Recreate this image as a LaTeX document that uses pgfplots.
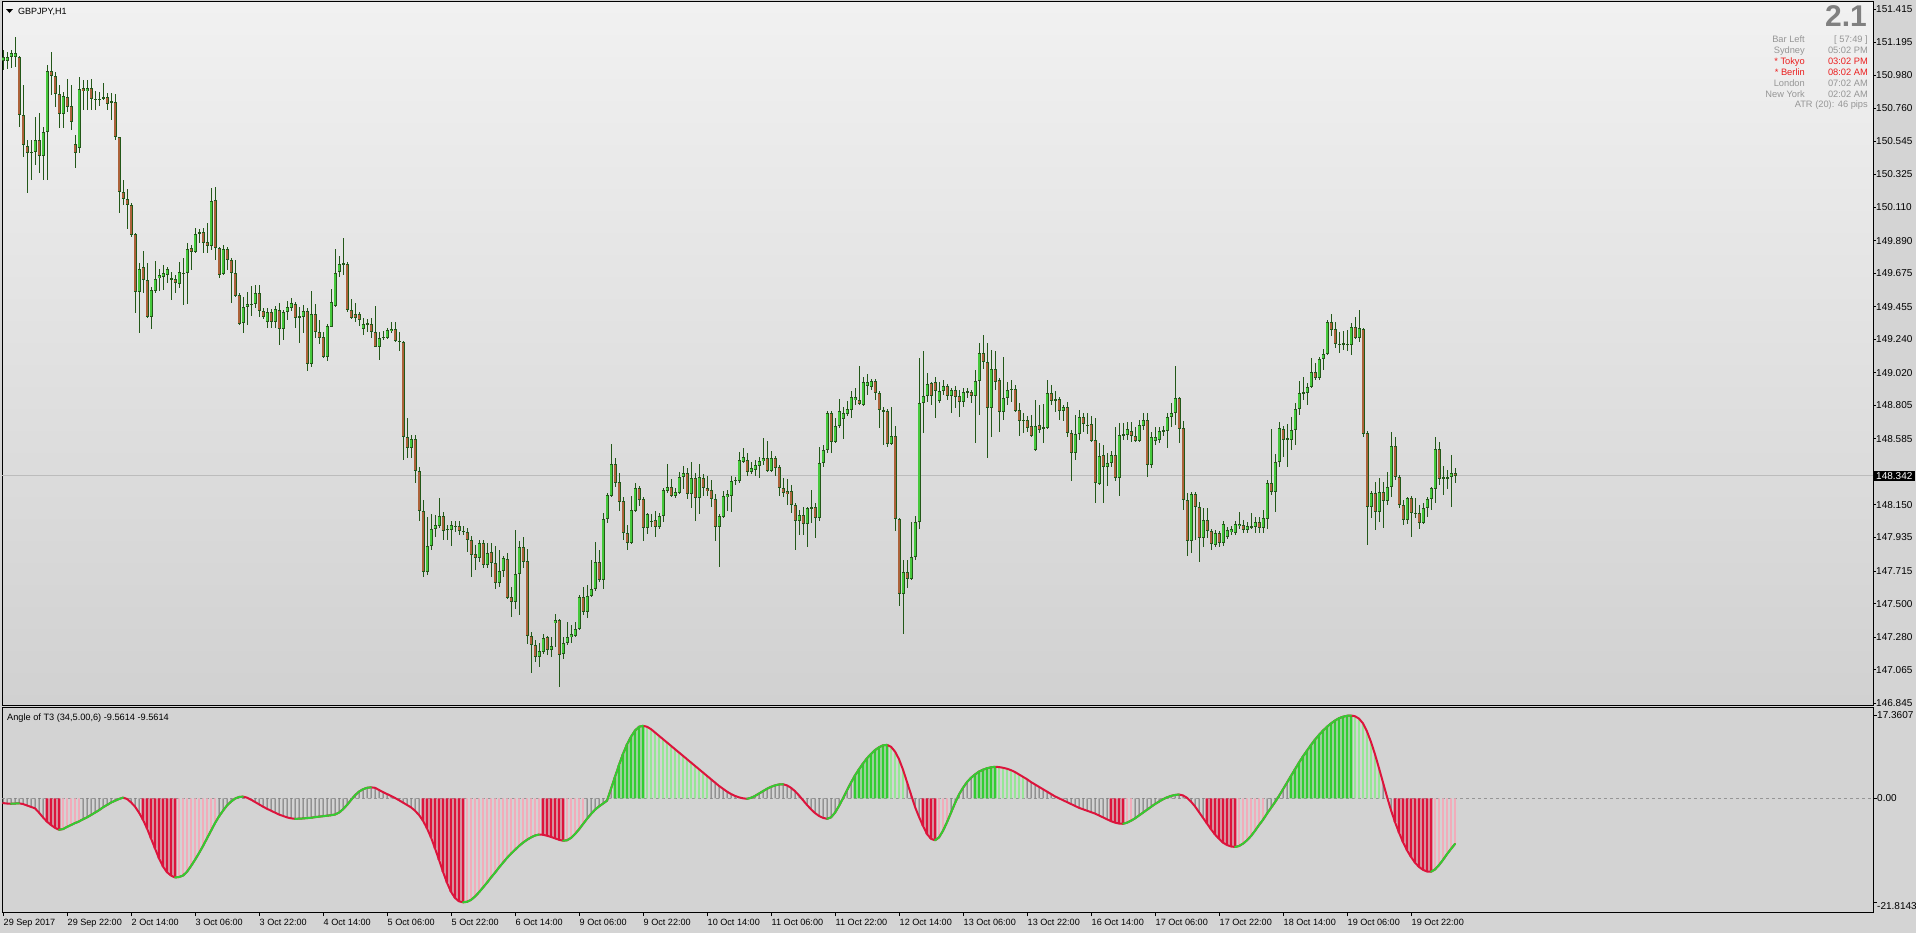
\documentclass[border=0pt]{standalone}
\usepackage{fontspec}
\setmainfont{Liberation Sans}
\usepackage{pgfplots}
\usepackage{pgfplotstable}
\pgfplotsset{compat=1.18}

\definecolor{bgout}{RGB}{212,212,212}
\definecolor{paneltop}{RGB}{241,241,241}
\definecolor{panelbot}{RGB}{209,209,209}
\definecolor{indbg}{RGB}{211,211,211}
\definecolor{wick}{RGB}{35,88,25}
\definecolor{bull}{RGB}{70,200,60}
\definecolor{bear}{RGB}{172,98,58}
\definecolor{crim}{RGB}{220,20,60}
\definecolor{pinkb}{RGB}{242,172,186}
\definecolor{limeg}{RGB}{50,205,50}
\definecolor{paleg}{RGB}{150,230,150}
\definecolor{grayb}{RGB}{110,110,110}
\definecolor{infogray}{RGB}{150,150,150}
\definecolor{biggray}{RGB}{128,128,128}
\definecolor{infored}{RGB}{235,30,30}
\definecolor{priceline}{RGB}{188,188,188}
\definecolor{zeroline}{RGB}{150,150,150}

\pgfplotstableread{
i O H L C
0 151.072 151.145 151.013 151.099
1 151.072 151.132 151.020 151.099
2 151.099 151.145 151.026 151.125
3 151.099 151.230 151.033 151.125
4 151.099 151.105 150.638 150.717
5 150.717 150.914 150.440 150.519
6 150.512 150.552 150.203 150.466
7 150.473 150.552 150.289 150.473
8 150.473 150.704 150.387 150.552
9 150.552 150.730 150.335 150.446
10 150.446 150.638 150.289 150.605
11 150.605 151.046 150.289 151.007
12 151.007 151.132 150.848 150.974
13 150.974 151.000 150.769 150.855
14 150.855 150.914 150.631 150.723
15 150.723 150.868 150.631 150.842
16 150.835 150.954 150.737 150.769
17 150.776 150.914 150.618 150.671
18 150.526 150.585 150.368 150.466
19 150.499 150.967 150.466 150.888
20 150.894 150.947 150.750 150.875
21 150.875 150.947 150.750 150.894
22 150.894 150.954 150.750 150.822
23 150.822 150.875 150.750 150.822
24 150.822 150.868 150.776 150.822
25 150.822 150.927 150.816 150.835
26 150.835 150.862 150.750 150.790
27 150.803 150.862 150.684 150.803
28 150.803 150.855 150.552 150.572
29 150.572 150.572 150.071 150.210
30 150.210 150.289 150.124 150.164
31 150.164 150.229 149.966 150.124
32 150.124 150.137 149.913 149.927
33 149.933 149.940 149.413 149.551
34 149.551 149.742 149.281 149.703
35 149.716 149.821 149.544 149.630
36 149.630 149.742 149.380 149.387
37 149.387 149.584 149.308 149.564
38 149.558 149.755 149.544 149.637
39 149.643 149.703 149.558 149.663
40 149.650 149.729 149.564 149.676
41 149.663 149.716 149.610 149.703
42 149.637 149.683 149.499 149.637
43 149.637 149.663 149.544 149.610
44 149.604 149.749 149.577 149.683
45 149.676 149.775 149.466 149.676
46 149.676 149.874 149.473 149.834
47 149.841 149.861 149.696 149.815
48 149.815 149.973 149.808 149.933
49 149.933 149.966 149.874 149.946
50 149.946 149.973 149.808 149.874
51 149.881 150.005 149.808 149.854
52 149.854 150.236 149.828 150.150
53 150.157 150.243 149.762 149.841
54 149.841 149.848 149.643 149.663
55 149.670 149.861 149.663 149.834
56 149.834 149.848 149.696 149.762
57 149.762 149.775 149.479 149.676
58 149.676 149.762 149.518 149.525
59 149.532 149.544 149.334 149.341
60 149.347 149.518 149.281 149.453
61 149.453 149.551 149.334 149.473
62 149.473 149.591 149.393 149.473
63 149.473 149.597 149.446 149.544
64 149.544 149.597 149.387 149.426
65 149.426 149.446 149.374 149.387
66 149.354 149.446 149.314 149.420
67 149.420 149.440 149.314 149.354
68 149.354 149.459 149.314 149.440
69 149.433 149.479 149.202 149.308
70 149.308 149.433 149.235 149.420
71 149.420 149.492 149.367 149.453
72 149.446 149.512 149.426 149.479
73 149.473 149.486 149.314 149.380
74 149.393 149.453 149.215 149.380
75 149.387 149.466 149.281 149.426
76 149.426 149.446 149.031 149.077
77 149.077 149.558 149.057 149.407
78 149.407 149.473 149.248 149.288
79 149.288 149.367 149.209 149.248
80 149.255 149.288 149.117 149.123
81 149.123 149.341 149.097 149.328
82 149.321 149.571 149.321 149.486
83 149.459 149.834 149.453 149.676
84 149.683 149.788 149.650 149.736
85 149.736 149.907 149.663 149.736
86 149.736 149.749 149.420 149.433
87 149.433 149.505 149.374 149.380
88 149.407 149.479 149.354 149.380
89 149.407 149.420 149.328 149.367
90 149.308 149.380 149.268 149.341
91 149.341 149.374 149.288 149.341
92 149.341 149.380 149.248 149.288
93 149.288 149.459 149.189 149.189
94 149.189 149.288 149.103 149.248
95 149.255 149.294 149.235 149.255
96 149.248 149.314 149.242 149.301
97 149.294 149.354 149.281 149.308
98 149.308 149.354 149.222 149.229
99 149.229 149.288 149.163 149.229
100 149.222 149.229 148.445 148.596
101 148.596 148.721 148.458 148.524
102 148.524 148.610 148.458 148.583
103 148.583 148.610 148.293 148.372
104 148.372 148.399 148.043 148.109
105 148.109 148.182 147.675 147.708
106 147.708 148.070 147.688 147.879
107 147.879 148.090 147.852 147.990
108 147.990 148.083 147.938 148.017
109 148.010 148.195 147.997 148.076
110 148.076 148.103 147.918 147.977
111 147.990 148.017 147.918 147.990
112 147.984 148.043 147.879 148.017
113 148.010 148.043 147.970 148.010
114 148.010 148.043 147.951 147.977
115 147.977 148.010 147.951 147.977
116 147.970 147.997 147.839 147.918
117 147.918 147.944 147.675 147.819
118 147.826 147.885 147.721 147.800
119 147.800 147.918 147.773 147.898
120 147.898 147.918 147.734 147.754
121 147.754 147.898 147.734 147.833
122 147.839 147.898 147.675 147.767
123 147.767 147.879 147.596 147.635
124 147.635 147.852 147.609 147.714
125 147.714 147.813 147.675 147.800
126 147.793 147.833 147.530 147.537
127 147.543 147.609 147.411 147.510
128 147.510 147.984 147.464 147.695
129 147.695 147.912 147.424 147.872
130 147.872 147.938 147.734 147.773
131 147.780 147.859 147.234 147.286
132 147.286 147.312 147.042 147.227
133 147.227 147.260 147.115 147.148
134 147.148 147.240 147.082 147.187
135 147.181 147.299 147.168 147.273
136 147.280 147.286 147.161 147.194
137 147.194 147.280 147.148 147.220
138 147.371 147.431 147.214 147.391
139 147.391 147.398 146.950 147.161
140 147.168 147.280 147.135 147.240
141 147.240 147.378 147.227 147.280
142 147.280 147.358 147.240 147.299
143 147.286 147.378 147.280 147.332
144 147.332 147.556 147.325 147.543
145 147.543 147.609 147.424 147.444
146 147.444 147.622 147.404 147.550
147 147.550 147.786 147.543 147.596
148 147.596 147.905 147.583 147.773
149 147.773 147.852 147.642 147.655
150 147.655 148.096 147.596 148.057
151 148.057 148.228 148.030 148.215
152 148.208 148.551 148.201 148.419
153 148.419 148.458 148.267 148.293
154 148.300 148.359 148.109 148.168
155 148.175 148.201 147.918 147.964
156 147.964 148.017 147.852 147.898
157 147.898 148.208 147.892 148.116
158 148.109 148.293 148.103 148.260
159 148.260 148.273 148.142 148.182
160 148.188 148.201 147.911 147.997
161 147.997 148.096 147.957 148.090
162 148.043 148.090 148.003 148.043
163 148.050 148.109 147.938 148.003
164 148.003 148.096 147.990 148.076
165 148.076 148.260 148.037 148.247
166 148.240 148.419 148.227 148.267
167 148.267 148.320 148.201 148.208
168 148.208 148.260 148.195 148.234
169 148.227 148.366 148.221 148.333
170 148.333 148.405 148.254 148.359
171 148.359 148.392 148.188 148.221
172 148.221 148.432 148.129 148.326
173 148.326 148.359 148.043 148.195
174 148.195 148.419 148.090 148.333
175 148.326 148.353 148.208 148.260
176 148.260 148.339 148.208 148.240
177 148.247 148.313 148.136 148.188
178 148.188 148.221 147.911 148.003
179 148.003 148.090 147.741 148.076
180 148.070 148.241 148.063 148.208
181 148.201 148.247 148.109 148.221
182 148.208 148.339 148.103 148.307
183 148.313 148.333 148.280 148.313
184 148.307 148.498 148.293 148.445
185 148.432 148.524 148.425 148.465
186 148.445 148.491 148.339 148.366
187 148.366 148.432 148.353 148.392
188 148.379 148.445 148.339 148.412
189 148.405 148.465 148.326 148.438
190 148.438 148.590 148.412 148.458
191 148.458 148.570 148.366 148.372
192 148.372 148.504 148.366 148.458
193 148.458 148.471 148.339 148.392
194 148.399 148.412 148.208 148.260
195 148.260 148.326 148.201 148.227
196 148.241 148.320 148.149 148.221
197 148.241 148.280 148.096 148.149
198 148.149 148.162 147.852 148.043
199 148.043 148.116 147.951 148.083
200 148.083 148.136 147.951 148.024
201 148.024 148.136 147.872 148.129
202 148.129 148.247 148.030 148.136
203 148.136 148.162 147.931 148.063
204 148.063 148.531 148.043 148.425
205 148.425 148.544 148.399 148.511
206 148.511 148.767 148.491 148.754
207 148.754 148.767 148.491 148.563
208 148.563 148.721 148.557 148.668
209 148.668 148.846 148.655 148.767
210 148.714 148.794 148.583 148.754
211 148.747 148.833 148.734 148.780
212 148.774 148.899 148.721 148.859
213 148.840 148.919 148.807 148.859
214 148.840 149.064 148.807 148.813
215 148.807 148.992 148.800 148.958
216 148.932 149.011 148.873 148.958
217 148.925 148.978 148.906 148.965
218 148.965 148.978 148.840 148.886
219 148.886 148.899 148.655 148.774
220 148.774 148.794 148.544 148.761
221 148.767 148.780 148.531 148.550
222 148.550 148.794 148.544 148.603
223 148.603 148.668 147.977 148.056
224 148.056 148.063 147.484 147.563
225 147.563 147.786 147.299 147.708
226 147.708 147.786 147.602 147.661
227 147.661 148.037 147.655 147.806
228 147.806 148.076 147.787 148.037
229 148.037 149.117 147.990 148.820
230 148.820 149.163 148.623 148.866
231 148.866 149.018 148.827 148.945
232 148.952 148.958 148.807 148.866
233 148.958 148.992 148.721 148.899
234 148.833 148.958 148.820 148.899
235 148.899 148.972 148.873 148.932
236 148.932 148.945 148.840 148.866
237 148.866 148.919 148.754 148.906
238 148.906 148.932 148.787 148.860
239 148.866 148.906 148.728 148.827
240 148.827 148.919 148.794 148.893
241 148.886 148.919 148.853 148.899
242 148.893 148.906 148.820 148.866
243 148.866 149.038 148.557 148.965
244 148.965 149.215 148.741 149.150
245 149.150 149.268 149.044 149.090
246 149.090 149.215 148.458 148.787
247 148.787 149.169 148.596 149.044
248 149.044 149.163 148.906 148.958
249 148.972 148.985 148.629 148.761
250 148.761 149.123 148.708 148.853
251 148.853 148.958 148.807 148.906
252 148.912 148.972 148.827 148.912
253 148.912 148.939 148.761 148.767
254 148.774 148.820 148.603 148.701
255 148.708 148.754 148.623 148.708
256 148.708 148.734 148.629 148.655
257 148.668 148.741 148.596 148.603
258 148.511 148.840 148.504 148.668
259 148.675 148.807 148.623 148.642
260 148.649 148.813 148.557 148.662
261 148.655 148.972 148.649 148.886
262 148.886 148.939 148.807 148.833
263 148.846 148.899 148.761 148.833
264 148.846 148.860 148.708 148.767
265 148.767 148.807 148.701 148.794
266 148.794 148.827 148.596 148.622
267 148.622 148.642 148.307 148.491
268 148.491 148.741 148.445 148.616
269 148.616 148.774 148.577 148.728
270 148.728 148.754 148.629 148.682
271 148.675 148.754 148.616 148.675
272 148.682 148.734 148.564 148.570
273 148.577 148.721 148.162 148.293
274 148.287 148.557 148.280 148.471
275 148.478 148.544 148.162 148.399
276 148.399 148.491 148.274 148.425
277 148.425 148.504 148.399 148.478
278 148.478 148.662 148.307 148.326
279 148.326 148.689 148.208 148.610
280 148.603 148.689 148.577 148.616
281 148.610 148.695 148.577 148.649
282 148.636 148.695 148.564 148.603
283 148.603 148.662 148.564 148.570
284 148.570 148.708 148.564 148.675
285 148.668 148.754 148.642 148.708
286 148.708 148.754 148.333 148.412
287 148.412 148.629 148.392 148.596
288 148.570 148.662 148.544 148.596
289 148.577 148.662 148.557 148.636
290 148.629 148.668 148.603 148.642
291 148.636 148.754 148.524 148.728
292 148.728 148.820 148.662 148.754
293 148.754 149.064 148.675 148.853
294 148.853 148.860 148.557 148.649
295 148.655 148.701 148.116 148.182
296 148.182 148.228 147.813 147.911
297 147.911 148.234 147.833 148.221
298 148.221 148.234 147.918 148.136
299 148.136 148.168 147.773 147.931
300 147.931 148.129 147.872 148.050
301 148.050 148.129 147.931 147.977
302 147.977 147.990 147.852 147.892
303 147.885 147.984 147.872 147.964
304 147.964 147.977 147.872 147.898
305 147.898 148.043 147.879 148.024
306 147.938 148.003 147.925 147.984
307 147.970 148.010 147.951 147.990
308 147.964 148.043 147.951 148.024
309 148.010 148.103 147.990 148.024
310 148.017 148.050 147.964 147.984
311 147.984 148.037 147.964 148.010
312 148.003 148.096 147.990 148.010
313 148.003 148.070 147.964 148.037
314 148.037 148.070 147.964 147.997
315 147.997 148.116 147.964 148.063
316 148.057 148.313 147.990 148.293
317 148.293 148.649 148.215 148.234
318 148.234 148.484 148.103 148.432
319 148.432 148.695 148.399 148.655
320 148.649 148.668 148.465 148.577
321 148.577 148.682 148.399 148.590
322 148.577 148.728 148.511 148.642
323 148.642 148.820 148.544 148.780
324 148.780 148.965 148.741 148.886
325 148.886 148.992 148.840 148.893
326 148.886 148.952 148.807 148.925
327 148.925 149.117 148.919 149.024
328 149.024 149.084 148.972 148.985
329 148.985 149.123 148.972 149.110
330 149.110 149.176 149.038 149.143
331 149.143 149.367 149.137 149.354
332 149.354 149.407 149.262 149.301
333 149.308 149.354 149.183 149.209
334 149.209 149.288 149.150 149.209
335 149.202 149.295 149.169 149.215
336 149.209 149.301 149.163 149.209
337 149.202 149.347 149.137 149.321
338 149.321 149.387 149.242 149.248
339 149.248 149.433 149.222 149.314
340 149.308 149.314 148.596 148.616
341 148.623 148.636 147.885 148.136
342 148.136 148.241 148.063 148.228
343 148.228 148.300 147.984 148.103
344 148.103 148.326 148.037 148.234
345 148.234 148.300 147.997 148.175
346 148.175 148.366 148.149 148.267
347 148.267 148.629 148.201 148.537
348 148.537 148.596 148.313 148.333
349 148.333 148.346 148.129 148.149
350 148.149 148.182 148.017 148.050
351 148.050 148.201 148.024 148.195
352 148.195 148.208 147.938 148.096
353 148.096 148.195 148.063 148.090
354 148.096 148.149 147.990 148.030
355 148.030 148.162 148.024 148.129
356 148.129 148.201 148.070 148.188
357 148.188 148.267 148.116 148.260
358 148.254 148.596 148.162 148.517
359 148.517 148.564 148.280 148.320
360 148.320 148.405 148.215 148.333
361 148.326 148.379 148.254 148.333
362 148.333 148.478 148.136 148.359
363 148.359 148.392 148.293 148.342
}\candles

\pgfplotstableread{
i v c g
0 -1.00 0 0
1 -1.10 0 0
2 -1.15 0 1
3 -1.10 0 1
4 -1.05 0 1
5 -1.20 0 0
6 -1.50 0 0
7 -1.80 0 0
8 -2.10 0 0
9 -3.00 0 0
10 -4.00 0 0
11 -4.90 1 0
12 -5.60 1 0
13 -6.20 1 0
14 -6.60 1 1
15 -6.45 2 1
16 -6.00 2 1
17 -5.60 2 1
18 -5.20 2 1
19 -4.85 2 1
20 -4.40 0 1
21 -4.00 0 1
22 -3.50 0 1
23 -3.00 0 1
24 -2.50 0 1
25 -1.90 0 1
26 -1.40 0 1
27 -0.90 0 1
28 -0.50 0 1
29 -0.15 0 1
30 0.14 0 1
31 -0.14 0 0
32 -0.84 0 0
33 -1.75 0 0
34 -3.00 0 0
35 -4.50 1 0
36 -6.30 1 0
37 -8.40 1 0
38 -10.50 1 0
39 -12.60 1 0
40 -14.30 1 0
41 -15.50 1 0
42 -16.20 1 0
43 -16.60 1 1
44 -16.50 2 1
45 -16.20 2 1
46 -15.40 2 1
47 -14.20 2 1
48 -12.90 2 1
49 -11.50 2 1
50 -10.00 2 1
51 -8.40 2 1
52 -6.80 2 1
53 -5.20 2 1
54 -3.80 0 1
55 -2.60 0 1
56 -1.50 0 1
57 -0.70 0 1
58 -0.07 0 1
59 0.28 0 1
60 0.35 0 1
61 0.14 0 0
62 -0.28 0 0
63 -0.77 0 0
64 -1.26 0 0
65 -1.75 0 0
66 -2.20 0 0
67 -2.60 0 0
68 -3.00 0 0
69 -3.40 0 0
70 -3.70 0 0
71 -4.00 0 0
72 -4.20 0 0
73 -4.30 0 1
74 -4.28 0 1
75 -4.22 0 1
76 -4.15 0 1
77 -4.08 0 1
78 -3.95 0 1
79 -3.85 0 1
80 -3.75 0 1
81 -3.65 0 1
82 -3.55 0 1
83 -3.40 0 1
84 -3.00 0 1
85 -2.30 0 1
86 -1.40 0 1
87 -0.35 0 1
88 0.63 0 1
89 1.40 0 1
90 1.90 0 1
91 2.20 0 1
92 2.30 0 1
93 2.20 0 0
94 1.75 0 0
95 1.30 0 0
96 0.90 0 0
97 0.50 0 0
98 0.07 0 0
99 -0.40 0 0
100 -0.90 0 0
101 -1.40 0 0
102 -1.90 0 0
103 -2.60 0 0
104 -3.50 0 0
105 -4.70 1 0
106 -6.30 1 0
107 -8.20 1 0
108 -10.50 1 0
109 -12.90 1 0
110 -15.40 1 0
111 -17.70 1 0
112 -19.60 1 0
113 -20.90 1 0
114 -21.60 1 0
115 -21.81 1 1
116 -21.70 2 1
117 -21.30 2 1
118 -20.60 2 1
119 -19.70 2 1
120 -18.70 2 1
121 -17.70 2 1
122 -16.60 2 1
123 -15.60 2 1
124 -14.50 2 1
125 -13.50 2 1
126 -12.50 2 1
127 -11.60 2 1
128 -10.80 2 1
129 -10.00 2 1
130 -9.30 2 1
131 -8.70 2 1
132 -8.20 2 1
133 -7.80 2 1
134 -7.60 2 1
135 -7.65 1 0
136 -7.85 1 0
137 -8.10 1 0
138 -8.40 1 0
139 -8.70 1 0
140 -8.90 1 1
141 -8.80 2 1
142 -8.30 2 1
143 -7.50 2 1
144 -6.50 2 1
145 -5.40 2 1
146 -4.30 0 1
147 -3.30 0 1
148 -2.40 0 1
149 -1.70 0 1
150 -1.10 0 1
151 -0.50 0 1
152 2.00 0 1
153 4.50 3 1
154 7.00 3 1
155 9.30 3 1
156 11.30 3 1
157 12.90 3 1
158 14.20 3 1
159 15.00 3 1
160 15.20 3 1
161 15.00 4 0
162 14.50 4 0
163 13.80 4 0
164 13.10 4 0
165 12.40 4 0
166 11.70 4 0
167 11.00 4 0
168 10.30 4 0
169 9.60 4 0
170 8.90 4 0
171 8.20 4 0
172 7.50 4 0
173 6.80 4 0
174 6.10 4 0
175 5.40 4 0
176 4.70 4 0
177 4.00 0 0
178 3.30 0 0
179 2.60 0 0
180 2.00 0 0
181 1.40 0 0
182 0.90 0 0
183 0.50 0 0
184 0.20 0 0
185 0.00 0 0
186 -0.10 0 1
187 0.10 0 1
188 0.50 0 1
189 1.00 0 1
190 1.50 0 1
191 2.00 0 1
192 2.40 0 1
193 2.70 0 1
194 2.90 0 1
195 2.95 0 1
196 2.70 0 0
197 2.20 0 0
198 1.50 0 0
199 0.60 0 0
200 -0.40 0 0
201 -1.40 0 0
202 -2.30 0 0
203 -3.10 0 0
204 -3.70 0 0
205 -4.10 0 0
206 -4.30 0 1
207 -4.00 0 1
208 -3.00 0 1
209 -1.60 0 1
210 0.00 0 1
211 1.70 0 1
212 3.30 0 1
213 4.80 3 1
214 6.10 3 1
215 7.30 3 1
216 8.40 3 1
217 9.30 3 1
218 10.10 3 1
219 10.70 3 1
220 11.10 3 1
221 11.20 3 1
222 10.80 4 0
223 9.80 4 0
224 8.20 4 0
225 6.00 4 0
226 3.40 0 0
227 0.80 0 0
228 -1.80 0 0
229 -3.90 0 0
230 -5.80 1 0
231 -7.50 1 0
232 -8.50 1 0
233 -8.80 1 1
234 -8.20 2 1
235 -6.80 2 1
236 -5.00 2 1
237 -3.00 0 1
238 -1.00 0 1
239 0.80 0 1
240 2.20 0 1
241 3.40 0 1
242 4.30 0 1
243 5.00 3 1
244 5.60 3 1
245 6.00 3 1
246 6.30 3 1
247 6.50 3 1
248 6.60 3 1
249 6.55 4 0
250 6.40 4 0
251 6.20 4 0
252 5.90 4 0
253 5.50 4 0
254 5.00 4 0
255 4.50 4 0
256 4.00 0 0
257 3.40 0 0
258 2.90 0 0
259 2.40 0 0
260 1.90 0 0
261 1.40 0 0
262 0.90 0 0
263 0.40 0 0
264 0.00 0 0
265 -0.40 0 0
266 -0.80 0 0
267 -1.20 0 0
268 -1.60 0 0
269 -2.00 0 0
270 -2.30 0 0
271 -2.60 0 0
272 -2.90 0 0
273 -3.20 0 0
274 -3.60 0 0
275 -4.00 0 0
276 -4.40 0 0
277 -4.80 1 0
278 -5.10 1 0
279 -5.30 1 0
280 -5.35 1 1
281 -5.10 2 1
282 -4.70 2 1
283 -4.20 0 1
284 -3.60 0 1
285 -3.00 0 1
286 -2.40 0 1
287 -1.80 0 1
288 -1.20 0 1
289 -0.70 0 1
290 -0.20 0 1
291 0.20 0 1
292 0.50 0 1
293 0.70 0 1
294 0.80 0 1
295 0.60 0 0
296 0.10 0 0
297 -0.70 0 0
298 -1.70 0 0
299 -2.90 0 0
300 -4.10 0 0
301 -5.30 1 0
302 -6.50 1 0
303 -7.60 1 0
304 -8.50 1 0
305 -9.30 1 0
306 -9.80 1 0
307 -10.10 1 0
308 -10.20 1 1
309 -10.00 2 1
310 -9.50 2 1
311 -8.80 2 1
312 -7.90 2 1
313 -6.80 2 1
314 -5.60 2 1
315 -4.50 2 1
316 -3.20 0 1
317 -2.00 0 1
318 -0.80 0 1
319 0.50 0 1
320 1.90 0 1
321 3.30 0 1
322 4.70 3 1
323 6.10 3 1
324 7.50 3 1
325 8.80 3 1
326 10.00 3 1
327 11.20 3 1
328 12.30 3 1
329 13.30 3 1
330 14.20 3 1
331 15.00 3 1
332 15.70 3 1
333 16.30 3 1
334 16.80 3 1
335 17.10 3 1
336 17.30 3 1
337 17.36 3 1
338 17.20 4 0
339 16.70 4 0
340 15.70 4 0
341 14.00 4 0
342 11.80 4 0
343 9.20 4 0
344 6.30 4 0
345 3.30 0 0
346 0.30 0 0
347 -2.50 0 0
348 -5.00 1 0
349 -7.20 1 0
350 -9.20 1 0
351 -10.90 1 0
352 -12.30 1 0
353 -13.50 1 0
354 -14.40 1 0
355 -15.00 1 0
356 -15.35 1 0
357 -15.40 1 1
358 -14.90 2 1
359 -14.00 2 1
360 -12.90 2 1
361 -11.70 2 1
362 -10.60 2 1
363 -9.56 2 1
}\ind

\begin{document}
\begin{tikzpicture}
\useasboundingbox (0,0) rectangle (1916bp,-933bp);
\fill[bgout] (0,0) rectangle (1916bp,-933bp);

% ---------------- main price panel ----------------
\begin{axis}[
  at={(2bp,-2bp)}, anchor=north west,
  scale only axis, width=1871bp, height=703bp,
  xmin=-0.25, xmax=467.5, ymin=146.832, ymax=151.461,
  axis background/.style={top color=paneltop, bottom color=panelbot},
  axis line style={black, line width=1bp},
  xtick=\empty,
  ytick={146.845,147.065,147.280,147.500,147.715,147.935,148.150,148.585,148.805,149.020,149.240,149.455,149.675,149.890,150.110,150.325,150.545,150.760,150.980,151.195,151.415},
  yticklabels={146.845,147.065,147.280,147.500,147.715,147.935,148.150,148.585,148.805,149.020,149.240,149.455,149.675,149.890,150.110,150.325,150.545,150.760,150.980,151.195,151.415},
  ytick pos=right, yticklabel pos=right,
  tick align=outside, major tick length=3bp,
  tick style={black, line width=0.8bp},
  yticklabel style={font=\fontsize{10bp}{12bp}\selectfont, anchor=west, inner sep=0pt, xshift=0bp, text=black},
  extra y ticks={148.342}, extra y tick labels={148.342},
  extra y tick style={yticklabel style={fill=black, text=white, inner xsep=2.5bp, inner ysep=1.5bp, xshift=-2.5bp}},
]
\addplot[priceline, line width=1bp] coordinates {(-0.25,148.342) (467.5,148.342)};
% wicks
\addplot[draw=none, mark=none, error bars/.cd, y dir=both, y explicit, error mark=none,
  error bar style={draw=wick, line width=1bp}]
  table[x=i, y expr={(\thisrow{H}+\thisrow{L})/2}, y error expr={(\thisrow{H}-\thisrow{L})/2}] {\candles};
% body outline
\addplot[draw=none, mark=none, error bars/.cd, y dir=both, y explicit, error mark=none,
  error bar style={draw=wick, line width=3bp}]
  table[x=i, y expr={(\thisrow{O}+\thisrow{C})/2}, y error expr={max(abs(\thisrow{C}-\thisrow{O})/2,0.0035)}] {\candles};
% bull fill
\addplot[draw=none, mark=none, error bars/.cd, y dir=both, y explicit, error mark=none,
  error bar style={draw=bull, line width=1.2bp}]
  table[x=i, y expr={(\thisrow{O}+\thisrow{C})/2}, y error expr={(\thisrow{C}>\thisrow{O}) ? max((\thisrow{C}-\thisrow{O})/2-0.0066,0) : 0}] {\candles};
% bear fill
\addplot[draw=none, mark=none, error bars/.cd, y dir=both, y explicit, error mark=none,
  error bar style={draw=bear, line width=1.2bp}]
  table[x=i, y expr={(\thisrow{O}+\thisrow{C})/2}, y error expr={(\thisrow{O}>\thisrow{C}) ? max((\thisrow{O}-\thisrow{C})/2-0.0066,0) : 0}] {\candles};
\end{axis}

% ---------------- indicator panel ----------------
\begin{axis}[
  at={(2bp,-707bp)}, anchor=north west,
  scale only axis, width=1871bp, height=205bp,
  xmin=-0.25, xmax=467.5, ymin=-23.84, ymax=19.14,
  axis background/.style={fill=indbg},
  axis line style={black, line width=1bp},
  xtick={0,16,...,352},
  xticklabels={29 Sep 2017,29 Sep 22:00,2 Oct 14:00,3 Oct 06:00,3 Oct 22:00,4 Oct 14:00,5 Oct 06:00,5 Oct 22:00,6 Oct 14:00,9 Oct 06:00,9 Oct 22:00,10 Oct 14:00,11 Oct 06:00,11 Oct 22:00,12 Oct 14:00,13 Oct 06:00,13 Oct 22:00,16 Oct 14:00,17 Oct 06:00,17 Oct 22:00,18 Oct 14:00,19 Oct 06:00,19 Oct 22:00},
  xtick pos=left, xticklabel pos=left,
  ytick={0,17.3607}, yticklabels={0.00,17.3607},
  extra y ticks={-21.8143}, extra y tick labels={-21.8143},
  extra y tick style={yticklabel style={yshift=-3.5bp}},
  ytick pos=right, yticklabel pos=right,
  tick align=outside, major tick length=4bp,
  tick style={black, line width=0.8bp},
  xticklabel style={font=\fontsize{9.1bp}{11bp}\selectfont, anchor=north west, inner sep=0pt, xshift=0.5bp, yshift=-3bp, text=black},
  yticklabel style={font=\fontsize{10bp}{12bp}\selectfont, anchor=west, inner sep=0pt, xshift=0bp, text=black},
]
\addplot[zeroline, line width=0.8bp, dash pattern=on 3bp off 3bp] coordinates {(-0.25,0) (467.5,0)};
\addplot[ybar, bar width=1bp, bar shift=0pt, fill=grayb, draw=none,
  x filter/.expression={\thisrow{c}==0 ? x : nan}] table[x=i, y=v] {\ind};
\addplot[ybar, bar width=1.6bp, bar shift=0pt, fill=pinkb, draw=none,
  x filter/.expression={\thisrow{c}==2 ? x : nan}] table[x=i, y=v] {\ind};
\addplot[ybar, bar width=1.6bp, bar shift=0pt, fill=paleg, draw=none,
  x filter/.expression={\thisrow{c}==4 ? x : nan}] table[x=i, y=v] {\ind};
\addplot[ybar, bar width=2.6bp, bar shift=0pt, fill=crim, draw=none,
  x filter/.expression={\thisrow{c}==1 ? x : nan}] table[x=i, y=v] {\ind};
\addplot[ybar, bar width=2.6bp, bar shift=0pt, fill=limeg, draw=none,
  x filter/.expression={\thisrow{c}==3 ? x : nan}] table[x=i, y=v] {\ind};
% T3 angle line: red where falling, green where rising
\addplot[crim, line width=2bp, line cap=round, line join=round, mark=none] table[x=i, y=v] {\ind};
\addplot[limeg, line width=2bp, line cap=round, line join=round, mark=none, unbounded coords=jump,
  x filter/.expression={\thisrow{g}==1 ? x : nan}] table[x=i, y=v] {\ind};
\end{axis}

% ---------------- text annotations ----------------
\fill[black] (6bp,-9bp) -- (13bp,-9bp) -- (9.5bp,-13bp) -- cycle;
\node[anchor=base west, inner sep=0pt, font=\fontsize{9bp}{11bp}\selectfont] at (18bp,-14bp) {GBPJPY,H1};
\node[anchor=base west, inner sep=0pt, font=\fontsize{9.2bp}{11bp}\selectfont] at (7bp,-720bp) {Angle of T3 (34,5.00,6) -9.5614 -9.5614};

\node[anchor=north east, inner sep=0pt, text=biggray, font=\fontsize{30bp}{32bp}\selectfont\bfseries] at (1867bp,-5bp) {2.1};
\begin{scope}[every node/.style={inner sep=0pt, font=\fontsize{9.3bp}{11bp}\selectfont}]
\node[anchor=base east, text=infogray] at (1805bp,-42.5bp) {Bar Left};
\node[anchor=base east, text=infogray] at (1868bp,-42.5bp) {[ 57:49 ]};
\node[anchor=base east, text=infogray] at (1805bp,-53.5bp) {Sydney};
\node[anchor=base east, text=infogray] at (1868bp,-53.5bp) {05:02 PM};
\node[anchor=base east, text=infored] at (1805bp,-64.5bp) {* Tokyo};
\node[anchor=base east, text=infored] at (1868bp,-64.5bp) {03:02 PM};
\node[anchor=base east, text=infored] at (1805bp,-75.5bp) {* Berlin};
\node[anchor=base east, text=infored] at (1868bp,-75.5bp) {08:02 AM};
\node[anchor=base east, text=infogray] at (1805bp,-86.5bp) {London};
\node[anchor=base east, text=infogray] at (1868bp,-86.5bp) {07:02 AM};
\node[anchor=base east, text=infogray] at (1805bp,-97bp) {New York};
\node[anchor=base east, text=infogray] at (1868bp,-97bp) {02:02 AM};
\node[anchor=base east, text=infogray] at (1868bp,-107.5bp) {ATR (20): 46 pips};
\end{scope}
\end{tikzpicture}
\end{document}
